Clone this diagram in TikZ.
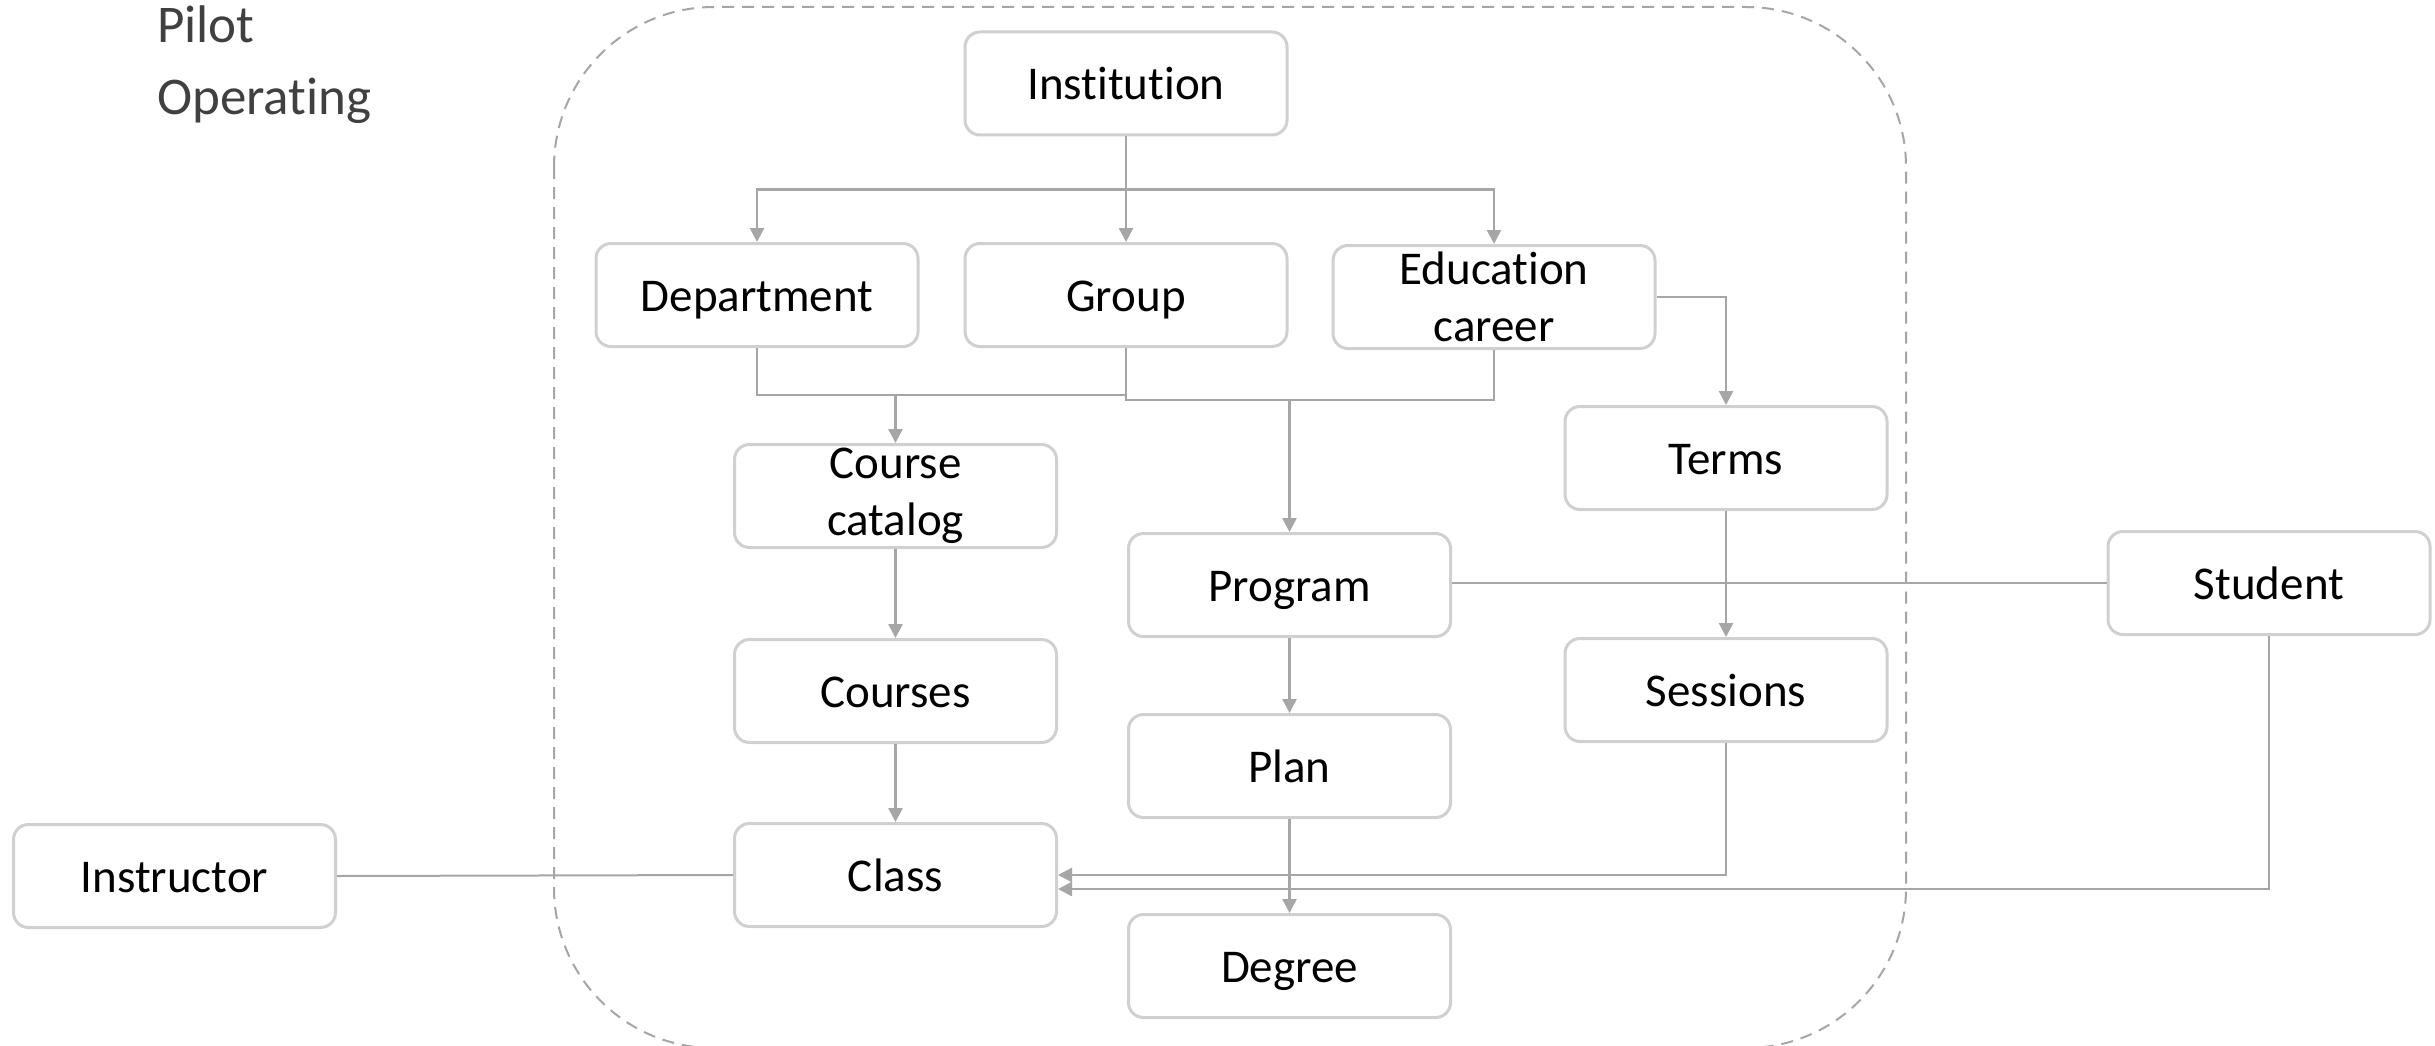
\documentclass[tikz,border=0pt]{standalone}
\usepackage{fontspec}
\setmainfont{Carlito}[Ligatures=NoCommon]
\usetikzlibrary{arrows.meta}
\definecolor{boxc}{HTML}{D0D0D0}
\definecolor{linec}{HTML}{A6A6A6}
\definecolor{titlec}{HTML}{404040}
\tikzset{
  boxbase/.style={draw=boxc, line width=3pt, rounded corners=15pt, fill=white,
    minimum width=322pt, minimum height=103pt, align=center, inner sep=0pt,
    font=\fontsize{47}{57}\selectfont},
  box/.style={boxbase, text height=33pt, text depth=0pt},
  boxtwo/.style={boxbase},
  conn/.style={draw=linec, line width=2.5pt},
  arr/.style={conn, -{Triangle[length=14pt,width=14pt]}},
  thin/.style={draw=linec, line width=2pt},
  title/.style={anchor=base west, inner sep=0pt, text=titlec, font=\fontsize{53}{60}\selectfont},
  frame/.style={draw=linec, line width=2pt, dash pattern=on 12pt off 8pt, rounded corners=160pt}
}
\begin{document}
\begin{tikzpicture}[x=1pt,y=-1pt]
\useasboundingbox (0,0) rectangle (2435,1046);
\fill[white] (0,0) rectangle (2435,1046);
\begin{scope}
\clip (0,0) rectangle (2435,1046);
\draw[frame] (554,7) rectangle (1906,1048);
\end{scope}

\node[title] (pilot) at (157,43) {Pilot};
\node[title] (oper) at (157,114) {Operating};

\node[box] (inst) at (1126,83.5) {Institution};
\node[box] (dept) at (757,295) {Department};
\node[box] (group) at (1126,295) {Group};
\node[boxtwo] (edu) at (1494,297) {Education\\career};
\node[boxtwo] (cat) at (895.5,496) {Course\\catalog};
\node[box] (terms) at (1726,458) {Terms};
\node[box] (prog) at (1289.5,585) {Program};
\node[box] (student) at (2269,583) {Student};
\node[box] (courses) at (895.5,691) {Courses};
\node[box] (sessions) at (1726,690) {Sessions};
\node[box] (plan) at (1289.5,766) {Plan};
\node[box] (instr) at (174.5,876) {Instructor};
\node[box] (class) at (895.5,875) {Class};
\node[box] (degree) at (1289.5,966) {Degree};

\coordinate (jA) at (1126,189.5);
\coordinate (yB) at (0,395);
\coordinate (yC) at (0,400);

% Institution fan-out
\draw[conn] (inst.south) -- (jA);
\draw[arr] (jA) -| (dept.north);
\draw[arr] (jA) -- (group.north);
\draw[arr] (jA) -| (edu.north);

% Department + Group -> Course catalog
\draw[conn] (dept.south) |- (group.south |- yB);
\draw[arr] (cat.north |- yB) -- (cat.north);

% Group + Education career -> Program
\draw[conn] (group.south) |- (edu.south |- yC) -- (edu.south);
\draw[arr] (prog.north |- yC) -- (prog.north);

% Education career -> Terms -> Sessions
\draw[arr] (edu.east) -| (terms.north);
\draw[arr] (terms.south) -- (sessions.north);

% vertical chains
\draw[arr] (cat.south) -- (courses.north);
\draw[arr] (courses.south) -- (class.north);
\draw[arr] (prog.south) -- (plan.north);
\draw[arr] (plan.south) -- (degree.north);

% plain links
\draw[thin] (student.west) -- (prog.east |- student.west);
\draw[thin] (instr.east) -- (class.west);

% into Class
\draw[arr] (sessions.south) |- (class.east);
\draw[arr] (student.south) |- ([yshift=-14pt]class.east);
\end{tikzpicture}
\end{document}
